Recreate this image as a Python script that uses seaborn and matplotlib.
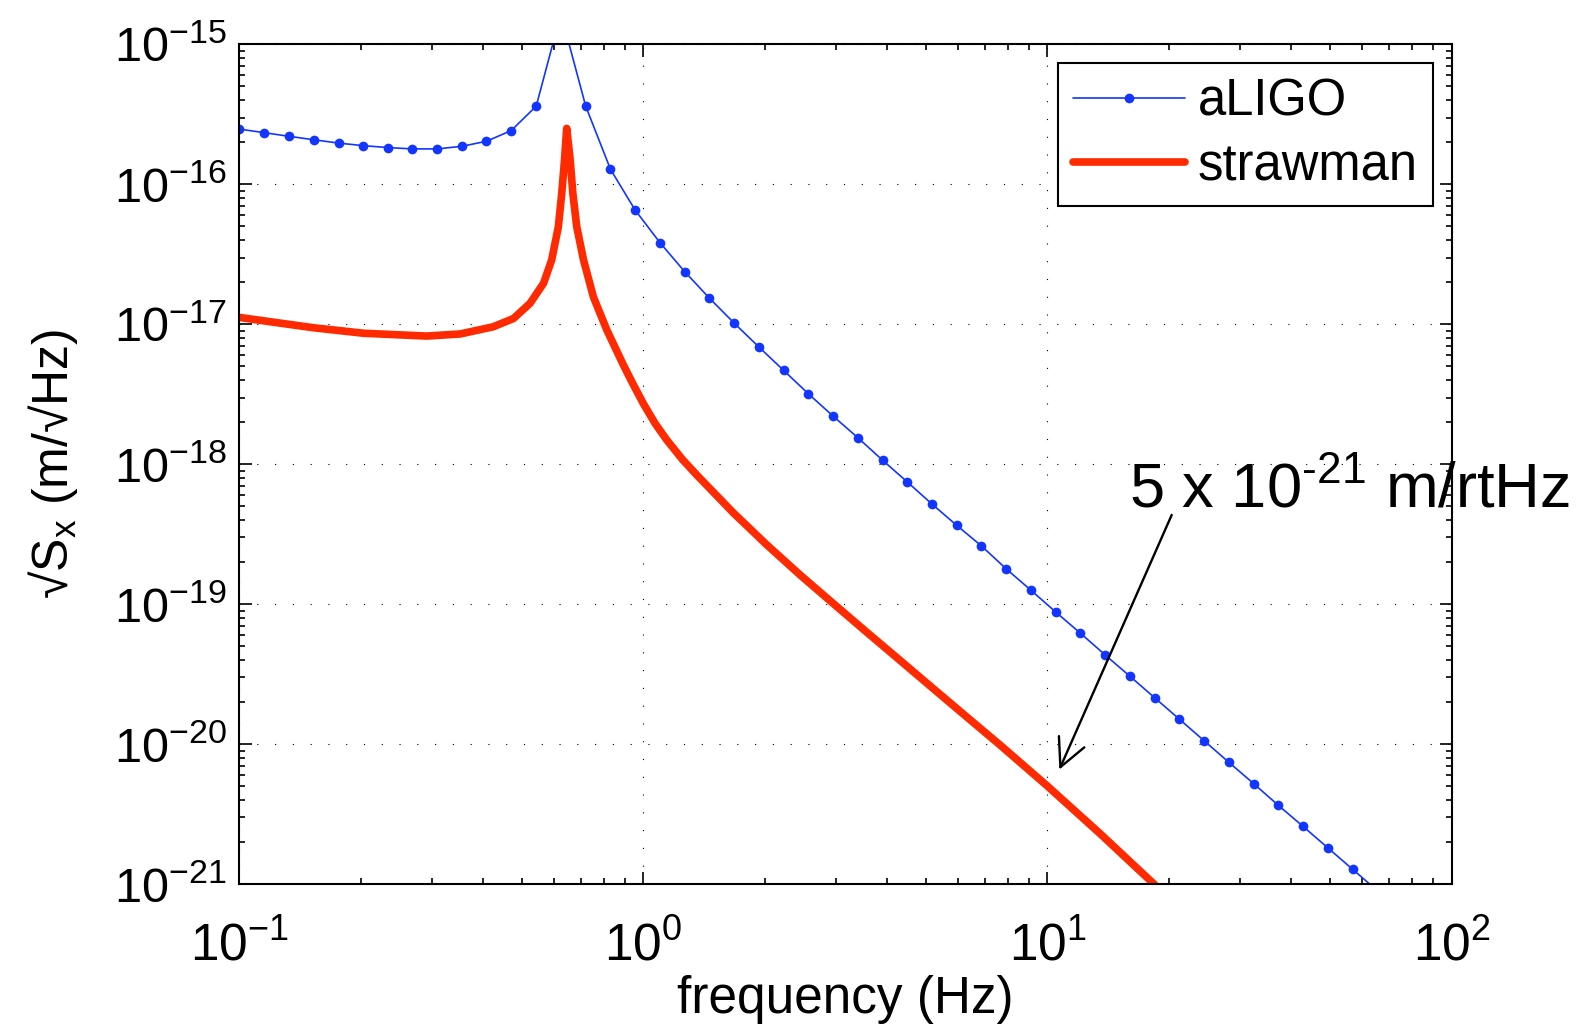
import numpy as np
import matplotlib
matplotlib.use("Agg")
import matplotlib.pyplot as plt
import seaborn as sns
from matplotlib.ticker import LogLocator, NullFormatter

# aLIGO displacement noise
aligo_freq = [0.100, 0.115, 0.133, 0.153, 0.176, 0.202, 0.233, 0.268, 0.309, 0.356,
              0.409, 0.471, 0.543, 0.625, 0.720, 0.829, 0.954, 1.099, 1.265, 1.456,
              1.677, 1.931, 2.223, 2.560, 2.947, 3.393, 3.907, 4.498, 5.179, 5.964,
              6.866, 7.906, 9.103, 10.48, 12.07, 13.89, 16.00, 18.42, 21.21, 24.42,
              28.12, 32.37, 37.28, 42.92, 49.42, 56.90, 65.51]
aligo_asd = [2.48e-16, 2.34e-16, 2.20e-16, 2.08e-16, 1.97e-16, 1.89e-16, 1.83e-16, 1.79e-16, 1.79e-16, 1.87e-16,
             2.03e-16, 2.42e-16, 3.62e-16, 1.66e-15, 3.61e-16, 1.28e-16, 6.55e-17, 3.83e-17, 2.38e-17, 1.54e-17,
             1.02e-17, 6.89e-18, 4.69e-18, 3.19e-18, 2.21e-18, 1.55e-18, 1.07e-18, 7.48e-19, 5.20e-19, 3.66e-19,
             2.61e-19, 1.79e-19, 1.26e-19, 8.81e-20, 6.21e-20, 4.35e-20, 3.06e-20, 2.15e-20, 1.51e-20, 1.06e-20,
             7.43e-21, 5.24e-21, 3.66e-21, 2.59e-21, 1.82e-21, 1.28e-21, 9.0e-22]

# strawman design curve
strawman_freq = [0.100, 0.152, 0.203, 0.291, 0.352, 0.425, 0.477, 0.524, 0.566, 0.593,
                 0.616, 0.628, 0.638, 0.646, 0.659, 0.669, 0.684, 0.711, 0.752, 0.812,
                 0.892, 0.940, 1.000, 1.070, 1.143, 1.250, 1.355, 1.671, 2.020, 2.443,
                 2.954, 3.573, 4.315, 5.224, 6.310, 7.640, 9.965, 13.52, 18.11, 20.0]
strawman_asd = [1.12e-17, 9.46e-18, 8.63e-18, 8.24e-18, 8.53e-18, 9.6e-18, 1.10e-17, 1.41e-17, 1.96e-17, 2.88e-17,
                4.98e-17, 8.63e-17, 1.49e-16, 2.51e-16, 1.49e-16, 8.63e-17, 4.98e-17, 2.88e-17, 1.57e-17, 9.1e-18,
                5.13e-18, 3.8e-18, 2.71e-18, 1.95e-18, 1.49e-18, 1.08e-18, 8.4e-19, 4.49e-19, 2.66e-19, 1.62e-19,
                1.01e-19, 6.31e-20, 3.98e-20, 2.49e-20, 1.57e-20, 9.86e-21, 5.07e-21, 2.29e-21, 1.04e-21, 7.94e-22]

BLUE = '#1236ff'
RED = '#ff2a00'

sns.set_style("ticks")
plt.rcParams['font.family'] = ['Liberation Sans', 'DejaVu Sans']
plt.rcParams['mathtext.fontset'] = 'custom'
plt.rcParams['mathtext.rm'] = 'Liberation Sans'
plt.rcParams['mathtext.it'] = 'Liberation Sans:italic'
plt.rcParams['mathtext.bf'] = 'Liberation Sans:bold'
plt.rcParams['mathtext.default'] = 'regular'
plt.rcParams['text.color'] = 'black'
plt.rcParams['axes.labelcolor'] = 'black'

fig = plt.figure(figsize=(15.89, 10.28), dpi=100)
ax = fig.add_axes([0.1506, 0.1398, 0.7629, 0.8171])

sns.lineplot(x=aligo_freq, y=aligo_asd, ax=ax, color=BLUE, lw=1.2, marker='o',
             markersize=7, markeredgewidth=0, label='aLIGO')
sns.lineplot(x=strawman_freq, y=strawman_asd, ax=ax, color=RED, lw=5.5,
             solid_joinstyle='round', solid_capstyle='round', label='strawman')

ax.set_xscale('log')
ax.set_yscale('log')
ax.set_xlim(0.1, 100)
ax.set_ylim(1e-21, 1e-15)

ax.xaxis.set_minor_locator(LogLocator(base=10, subs=np.arange(2, 10), numticks=100))
ax.yaxis.set_minor_locator(LogLocator(base=10, subs=np.arange(2, 10), numticks=100))
ax.xaxis.set_minor_formatter(NullFormatter())
ax.yaxis.set_minor_formatter(NullFormatter())

ax.grid(True, which='major', color='black', lw=0.8, linestyle=(0, (1, 15)))
ax.tick_params(which='both', direction='in', top=True, right=True, width=1.2,
               colors='black')
ax.tick_params(which='major', length=9)
ax.tick_params(which='minor', length=4.5)
ax.tick_params(axis='y', pad=9, labelsize=35)
ax.tick_params(axis='x', pad=27, labelsize=37)
for s in ax.spines.values():
    s.set_visible(True)
    s.set_linewidth(1.5)
    s.set_color('black')

ax.set_xlabel('frequency (Hz)', fontsize=37, labelpad=2)
ax.set_ylabel('√S$_\\mathregular{x}$ (m/√Hz)', fontsize=36, labelpad=24)

leg = ax.legend(loc='upper right', bbox_to_anchor=(0.9845, 0.978), borderaxespad=0,
                fontsize=36.5, frameon=True, fancybox=False, edgecolor='black',
                framealpha=1, handlelength=2.2, handletextpad=0.25,
                borderpad=0.3, labelspacing=0.3)
leg.get_frame().set_linewidth(1.5)

# arrow pointing at the strawman level at 10 Hz
ax.annotate('', xy=(10.7, 6.6e-21), xytext=(20.3, 4.35e-19),
            arrowprops=dict(arrowstyle='->,head_length=0.5,head_width=0.25',
                            color='black', lw=1.7, mutation_scale=40,
                            shrinkA=0, shrinkB=0))
ax.text(15.9, 4.9e-19, r'5 x 10$^{\text{-21}}$ m/rtHz', fontsize=45.5,
        ha='left', va='baseline')

plt.savefig('out.png', dpi=100)
